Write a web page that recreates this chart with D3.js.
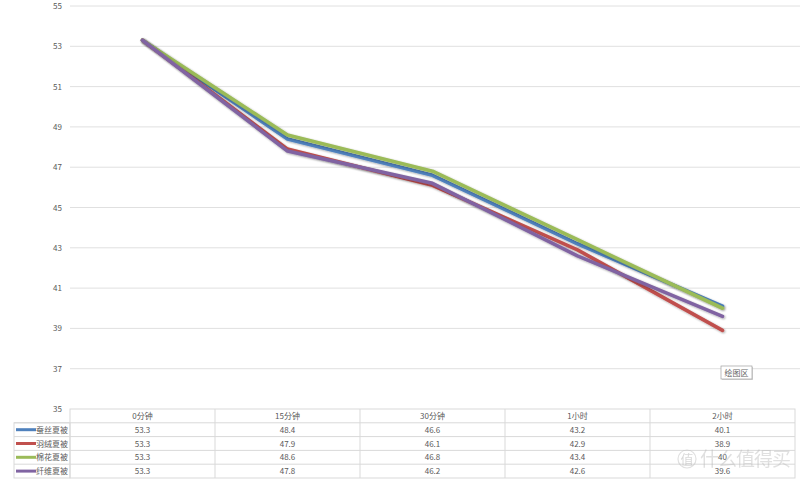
<!DOCTYPE html>
<html><head><meta charset="utf-8">
<script src="https://cdn.jsdelivr.net/npm/d3@7"></script>
<style>
body{margin:0;background:#fff;}
text{font-family:"Noto Sans CJK SC","Noto Sans",sans-serif;}
</style></head>
<body>
<svg id="c" width="800" height="480"></svg>
<script>
const categories = ["0分钟","15分钟","30分钟","1小时","2小时"];
const seriesNames = ["蚕丝夏被","羽绒夏被","棉花夏被","纤维夏被"];
const silk = [53.3,48.4,46.6,43.2,40.1];
const down = [53.3,47.9,46.1,42.9,38.9];
const cotton = [53.3,48.6,46.8,43.4,40.0];
const fiber = [53.3,47.8,46.2,42.6,39.6];
const tableLabels = [
  ["53.3","48.4","46.6","43.2","40.1"],
  ["53.3","47.9","46.1","42.9","38.9"],
  ["53.3","48.6","46.8","43.4","40"],
  ["53.3","47.8","46.2","42.6","39.6"]
];
const yTicks = [35,37,39,41,43,45,47,49,51,53,55];
const colors = ["#4f81bd","#c0504d","#9bbb59","#8064a2"];
const series = [silk, down, cotton, fiber];

(function(){
const svg = d3.select("#c");
const pL = 70, pR = 795, pT = 6, pB = 409;
const x = d3.scaleBand().domain(categories).range([pL,pR]);
const y = d3.scaleLinear().domain([35,55]).range([pB,pT]);

svg.append("g").selectAll("line").data(yTicks.filter(d=>d>35)).join("line")
  .attr("x1",pL).attr("x2",800).attr("y1",d=>y(d)).attr("y2",d=>y(d))
  .attr("stroke","#e0e0e0").attr("stroke-width",1);

svg.append("g").selectAll("text").data(yTicks).join("text")
  .attr("x",62).attr("y",d=>y(d)+3).attr("text-anchor","end")
  .attr("font-size",8).attr("fill","#595959").text(d=>d);

const defs = svg.append("defs");
const f = defs.append("filter").attr("id","sh").attr("x","-10%").attr("y","-10%").attr("width","120%").attr("height","130%");
f.append("feGaussianBlur").attr("in","SourceAlpha").attr("stdDeviation",0.8).attr("result","b");
f.append("feOffset").attr("in","b").attr("dx",0.5).attr("dy",1).attr("result","o");
f.append("feComponentTransfer").attr("in","o").attr("result","o2").append("feFuncA").attr("type","linear").attr("slope",0.35);
const m = f.append("feMerge");
m.append("feMergeNode").attr("in","o2");
m.append("feMergeNode").attr("in","SourceGraphic");

const line = d3.line().x((d,i)=>x(categories[i])+x.bandwidth()/2).y(d=>y(d));
svg.append("g").selectAll("path").data(series).join("path")
  .attr("d",d=>line(d)).attr("fill","none")
  .attr("stroke",(d,i)=>colors[i]).attr("stroke-width",3.6)
  .attr("stroke-linejoin","round").attr("stroke-linecap","round")
  .attr("filter","url(#sh)");

const rowH = 13.8;
const tTop = pB;
const legL = 14;
const tg = svg.append("g");
tg.append("rect").attr("x",pL).attr("y",tTop).attr("width",pR-pL).attr("height",rowH*5)
  .attr("fill","none").attr("stroke","#d9d9d9");
tg.append("rect").attr("x",legL).attr("y",tTop+rowH).attr("width",pL-legL).attr("height",rowH*4)
  .attr("fill","none").attr("stroke","#d9d9d9");
tg.selectAll("line.h").data([1,2,3,4]).join("line")
  .attr("x1",legL).attr("x2",pR).attr("y1",i=>tTop+rowH*i).attr("y2",i=>tTop+rowH*i)
  .attr("stroke","#d9d9d9");
tg.selectAll("line.v").data(categories.slice(1)).join("line")
  .attr("x1",d=>x(d)).attr("x2",d=>x(d)).attr("y1",tTop).attr("y2",tTop+rowH*5)
  .attr("stroke","#d9d9d9");
tg.selectAll("text.hd").data(categories).join("text")
  .attr("x",d=>x(d)+x.bandwidth()/2).attr("y",tTop+rowH/2+3).attr("text-anchor","middle")
  .attr("font-size",8).attr("fill","#595959").text(d=>d);
seriesNames.forEach((name,si)=>{
  const cy = tTop+rowH*(si+1)+rowH/2;
  tg.append("line").attr("x1",16).attr("x2",36).attr("y1",cy).attr("y2",cy)
    .attr("stroke",colors[si]).attr("stroke-width",3);
  tg.append("text").attr("x",68).attr("y",cy+3).attr("text-anchor","end")
    .attr("font-size",8).attr("fill","#595959").text(name);
  tg.selectAll(null).data(tableLabels[si]).join("text")
    .attr("x",(d,i)=>x(categories[i])+x.bandwidth()/2).attr("y",cy+3).attr("text-anchor","middle")
    .attr("font-size",8).attr("fill","#595959").text(d=>d);
});

const tt = svg.append("g").attr("transform","translate(721,366)");
tt.append("rect").attr("x",1).attr("y",1).attr("width",31).attr("height",13).attr("fill","#bbb").attr("opacity",0.6);
tt.append("rect").attr("width",31).attr("height",13).attr("fill","#fff").attr("stroke","#a0a0a0").attr("stroke-width",0.7);
tt.append("text").attr("x",15.5).attr("y",9.5).attr("text-anchor","middle").attr("font-size",8).attr("fill","#666").text("绘图区");

const wm = svg.append("g").attr("opacity",0.45);
wm.append("circle").attr("cx",687).attr("cy",459).attr("r",9).attr("fill","none").attr("stroke","#bbb").attr("stroke-width",1.2);
wm.append("text").attr("x",687).attr("y",464).attr("text-anchor","middle").attr("font-size",13).attr("fill","#aaa").text("值");
wm.append("text").attr("x",700).attr("y",466).attr("font-size",19).attr("fill","#bbb").attr("letter-spacing",-1).text("什么值得买");
})();
</script>
</body></html>
